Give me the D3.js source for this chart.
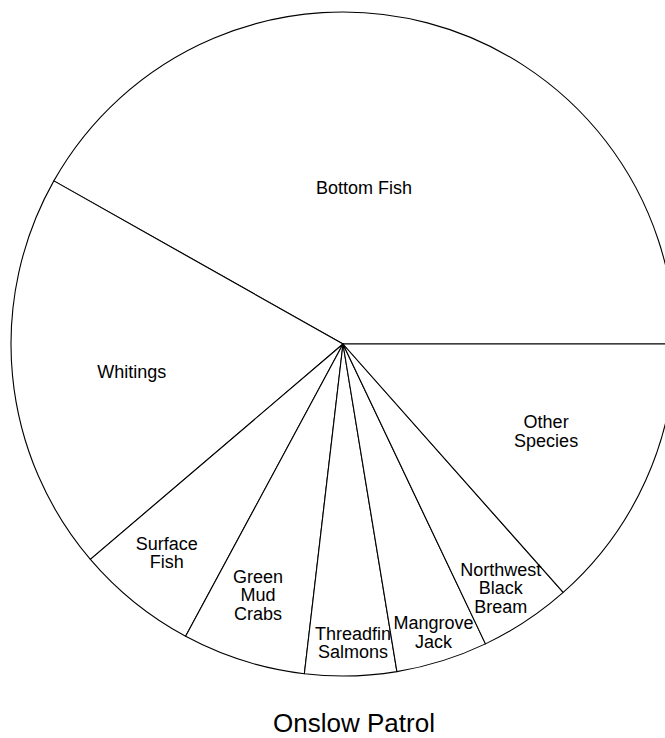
<!DOCTYPE html>
<html>
<head>
<meta charset="utf-8">
<script src="https://cdn.jsdelivr.net/npm/d3@7"></script>
<style>
  html, body { margin: 0; padding: 0; background: #fff; }
  svg { display: block; }
  text { font-family: "Liberation Sans", Arial, sans-serif; fill: #000; }
</style>
</head>
<body>
<svg id="chart" width="665" height="738"></svg>
<script>
// ---- data ----
const categories = [
  "Bottom Fish", "Whitings", "Surface Fish", "Green Mud Crabs",
  "Threadfin Salmons", "Mangrove Jack", "Northwest Black Bream", "Other Species"
];
const values = [41.8, 19.4, 5.9, 6.0, 4.45, 4.46, 4.48, 13.45];
const labelLines = [
  ["Bottom Fish"], ["Whitings"], ["Surface", "Fish"], ["Green", "Mud", "Crabs"],
  ["Threadfin", "Salmons"], ["Mangrove", "Jack"], ["Northwest", "Black", "Bream"],
  ["Other", "Species"]
];
const title = "Onslow Patrol";

// ---- layout (label placement: math angle in degrees, radius in px) ----
const labelAngle = [82.4, 187.3, 229.8, 251.3, 271.9, 287.45, 302.9, 336.8];
const labelRadius = [158, 213, 273, 265, 299, 302, 290.5, 221];

const cx = 343, cy = 344, R = 332;
const lineH = 18.3, fontSize = 18;

const svg = d3.select("#chart");
const g = svg.append("g").attr("transform", `translate(${cx},${cy})`);

const pie = d3.pie().sort(null).value(d => d)
  .startAngle(Math.PI / 2).endAngle(Math.PI / 2 - 2 * Math.PI);
const arc = d3.arc().innerRadius(0).outerRadius(R);

g.selectAll("path.slice")
  .data(pie(values))
  .join("path")
  .attr("class", "slice")
  .attr("d", arc)
  .attr("fill", "#fff")
  .attr("stroke", "#000")
  .attr("stroke-width", 1.1)
  .attr("stroke-linejoin", "round");

const labels = g.selectAll("text.lbl")
  .data(categories)
  .join("text")
  .attr("class", "lbl")
  .attr("text-anchor", "middle")
  .style("font-size", fontSize + "px")
  .each(function(d, i) {
    const phi = labelAngle[i] * Math.PI / 180;
    const x = labelRadius[i] * Math.cos(phi);
    const y = -labelRadius[i] * Math.sin(phi);
    const lines = labelLines[i];
    const firstBase = y - (lines.length - 1) * lineH / 2 + 0.36 * fontSize;
    const t = d3.select(this);
    lines.forEach((ln, k) => {
      t.append("tspan").attr("x", x).attr("y", firstBase + k * lineH).text(ln);
    });
  });

svg.append("text")
  .attr("x", 354)
  .attr("y", 732)
  .attr("text-anchor", "middle")
  .style("font-size", "26px")
  .text(title);
</script>
</body>
</html>
